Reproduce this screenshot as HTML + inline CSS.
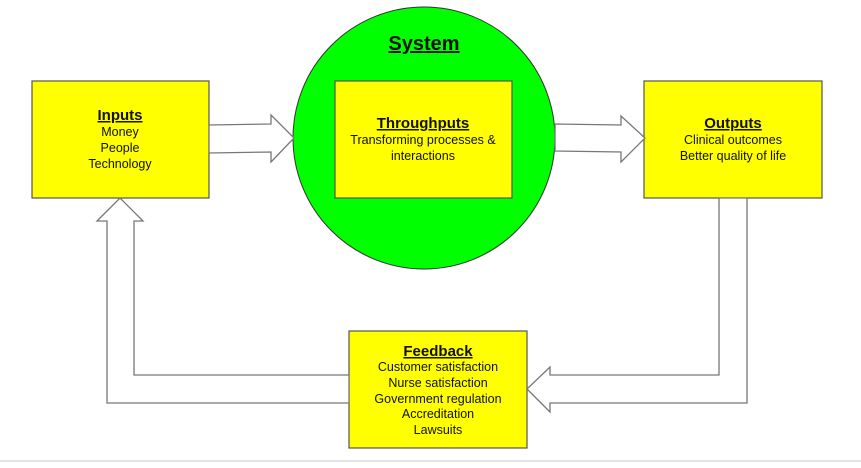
<!DOCTYPE html>
<html><head><meta charset="utf-8"><style>
body{margin:0;background:#fff;}
svg text{font-family:"Liberation Sans",Arial,sans-serif;fill:#111;text-anchor:middle;}
.t{font-weight:bold;font-size:15px;text-decoration:underline;}
.b{font-size:12.5px;}
</style></head><body>
<svg width="861" height="463" viewBox="0 0 861 463" xmlns="http://www.w3.org/2000/svg">
<rect width="861" height="463" fill="#fff"/>
<line x1="0" y1="461" x2="861" y2="461" stroke="#e4e4e4" stroke-width="2"/>
<circle cx="424" cy="138" r="131" fill="#00ff00" stroke="#333" stroke-width="1"/>
<g fill="#ffff00" stroke="#555" stroke-width="1.2">
<rect x="32" y="81" width="177" height="117"/>
<rect x="335" y="81" width="177" height="117"/>
<rect x="644" y="81" width="178" height="117"/>
<rect x="349" y="331" width="178" height="117"/>
</g>
<g fill="#fff" stroke="#777" stroke-width="1.3">
<polygon points="209,125 271,124 271,115 294,138 271,162 271,152 209,153"/>
<polygon points="555,124 621,125 621,116 645,138 621,162 621,152 555,151"/>
<polygon points="719,198 719,375 550,375 550,367 527,389 550,412 550,403 747,403 747,198"/>
<polygon points="349,375 134,375 134,221 143,221 120,198 97,221 107,221 107,403 349,403"/>
</g>
<text x="424" y="50" style="font-weight:bold;font-size:20px;text-decoration:underline;">System</text>
<text class="t" x="120" y="120">Inputs</text>
<text class="b" x="120" y="136">Money</text>
<text class="b" x="120" y="152">People</text>
<text class="b" x="120" y="168">Technology</text>
<text class="t" x="423" y="128">Throughputs</text>
<text class="b" x="423" y="144">Transforming processes &amp;</text>
<text class="b" x="423" y="160">interactions</text>
<text class="t" x="733" y="128">Outputs</text>
<text class="b" x="733" y="144">Clinical outcomes</text>
<text class="b" x="733" y="160">Better quality of life</text>
<text class="t" x="438" y="356">Feedback</text>
<text class="b" x="438" y="371">Customer satisfaction</text>
<text class="b" x="438" y="387">Nurse satisfaction</text>
<text class="b" x="438" y="403">Government regulation</text>
<text class="b" x="438" y="418">Accreditation</text>
<text class="b" x="438" y="434">Lawsuits</text>
</svg>
</body></html>
